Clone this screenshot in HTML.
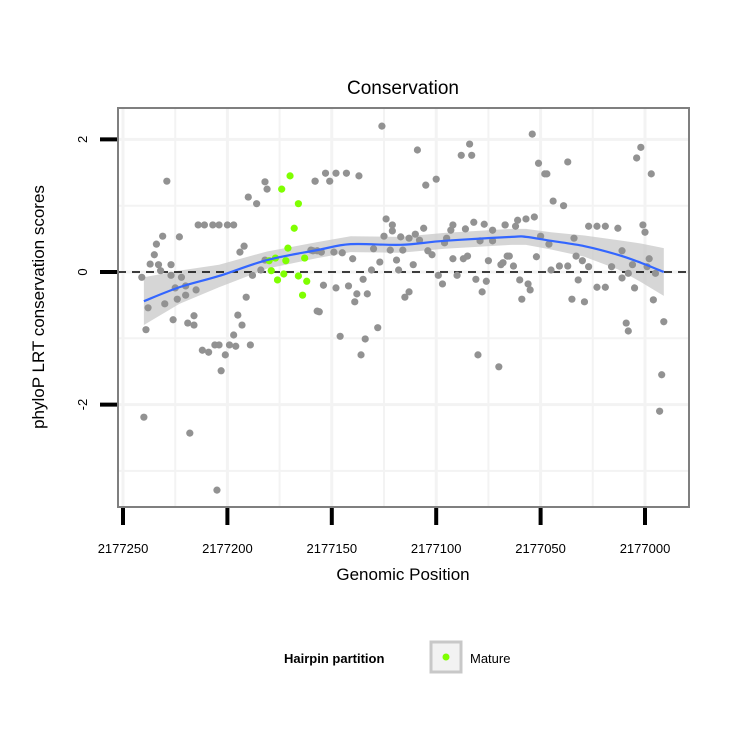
<!DOCTYPE html>
<html><head><meta charset="utf-8"><style>
body{margin:0;background:#fff;}
svg text{font-family:"Liberation Sans",sans-serif;}
</style></head><body>
<svg id="chart" width="750" height="750" xmlns="http://www.w3.org/2000/svg">
<rect width="750" height="750" fill="#fff"/>
<g id="grid"></g>
<g id="band"></g>
<line x1="118" y1="272" x2="689" y2="272" stroke="#000" stroke-width="1.6" stroke-dasharray="8,6"/>
<g id="pts"></g>
<g id="fitg"></g>
<rect x="118" y="108" width="571" height="399" fill="none" stroke="#7f7f7f" stroke-width="2"/>
<g id="axes"></g>
<text x="403" y="94" font-size="19" text-anchor="middle">Conservation</text>
<text x="403" y="580" font-size="17" text-anchor="middle">Genomic Position</text>
<text transform="translate(44,307) rotate(-90)" font-size="17" text-anchor="middle">phyloP LRT conservation scores</text>
<g>
<text x="284" y="663" font-size="13" font-weight="bold">Hairpin partition</text>
<rect x="431" y="642" width="30" height="30" fill="#f2f2f2" stroke="#c8c8c8" stroke-width="3"/>
<circle cx="446" cy="657" r="3.5" fill="#7fff00"/>
<text x="470" y="663" font-size="13">Mature</text>
</g>
</svg>
<script>
const grayPos=[2177229,2177182,2177181,2177190,2177186,2177158,2177214,2177211,2177207,2177204,2177200,2177197,2177231,2177223,2177234,2177235,2177192,2177194,2177237,2177233,2177227,2177232,2177227,2177241,2177222,2177182,2177184,2177188,2177160,2177157,2177225,2177220,2177215,2177224,2177220,2177191,2177238,2177230,2177239,2177226,2177216,2177219,2177216,2177195,2177193,2177197,2177212,2177209,2177206,2177204,2177199,2177196,2177189,2177201,2177203,2177240,2177218,2177205,2177157,
2177126,2177109,2177084,2177088,2177083,2177158,2177153,2177151,2177148,2177143,2177137,2177105,2177100,2177124,2177121,2177121,2177125,2177117,2177113,2177110,2177106,2177108,2177095,2177092,2177093,2177086,2177082,2177077,2177073,2177067,2177159,2177155,2177149,2177145,2177140,2177130,2177122,2177116,2177127,2177119,2177111,2177104,2177102,2177096,2177092,2177087,2177085,2177079,2177073,2177075,2177069,2177066,2177131,2177135,2177118,2177099,2177090,2177081,2177076,2177097,2177078,2177154,2177148,2177142,2177138,2177133,2177139,2177113,2177115,2177156,2177128,2177146,2177134,2177136,2177080,2177070,
2177054,2177051,2177037,2177048,2177047,2177002,2177004,2176997,2177044,2177039,2177067,2177061,2177057,2177053,2177062,2177027,2177023,2177019,2177013,2177001,2177000,2177050,2177046,2177034,2177011,2176998,2177065,2177068,2177063,2177052,2177033,2177030,2177027,2177016,2177006,2177045,2177041,2177037,2177008,2177011,2176999,2176995,2177060,2177056,2177055,2177032,2177023,2177019,2177005,2177059,2177035,2177029,2176996,2177009,2177008,2176991,2176992,2176993];
const grayScore=[1.37,1.36,1.25,1.13,1.03,1.37,.71,.71,.71,.71,.71,.71,.54,.53,.42,.26,.39,.30,.12,.11,.11,.02,-.05,-.08,-.08,.18,.03,-.05,.33,.32,-.24,-.21,-.27,-.41,-.35,-.38,-.54,-.48,-.87,-.72,-.66,-.77,-.80,-.65,-.80,-.95,-1.18,-1.21,-1.10,-1.10,-1.10,-1.12,-1.10,-1.25,-1.49,-2.19,-2.43,-3.29,-.59,
2.20,1.84,1.93,1.76,1.76,1.37,1.49,1.37,1.49,1.49,1.45,1.31,1.40,.80,.71,.62,.54,.53,.51,.57,.66,.48,.51,.71,.63,.65,.75,.72,.63,.71,.32,.30,.30,.29,.20,.35,.33,.33,.15,.18,.11,.32,.26,.44,.20,.20,.24,.47,.47,.17,.11,.24,.03,-.11,.03,-.05,-.05,-.11,-.14,-.18,-.30,-.20,-.24,-.21,-.33,-.33,-.45,-.30,-.38,-.60,-.84,-.97,-1.01,-1.25,-1.25,-1.43,
2.08,1.64,1.66,1.48,1.48,1.88,1.72,1.48,1.07,1.00,.71,.78,.80,.83,.69,.69,.69,.69,.66,.71,.60,.54,.42,.51,.32,.20,.24,.14,.09,.23,.24,.17,.08,.08,.11,.03,.09,.09,-.02,-.09,.08,-.02,-.12,-.18,-.27,-.12,-.23,-.23,-.24,-.41,-.41,-.45,-.42,-.77,-.89,-.75,-1.55,-2.10];
const maturePos=[2177170,2177174,2177166,2177168,2177171,2177177,2177180,2177172,2177163,2177179,2177173,2177176,2177166,2177162,2177164];
const matureScore=[1.45,1.25,1.03,.66,.36,.21,.17,.17,.21,.02,-.03,-.12,-.06,-.14,-.35];
const fitPos=[2177240,2177223,2177204,2177181,2177157,2177141,2177117,2177096,2177064,2177057,2177045,2177029,2177013,2177002,2176991];
const fitVal=[-.44,-.23,-.06,.18,.33,.42,.41,.47,.53,.53,.47,.39,.26,.14,0];
const fitSe=[.36,.25,.17,.13,.12,.12,.12,.12,.12,.12,.13,.16,.22,.29,.36];
const xTicks=[2177250,2177200,2177150,2177100,2177050,2177000];
const yTicks=[2,0,-2];

const NS='http://www.w3.org/2000/svg';
const X=v=>123+(2177250-v)*2.088;
const Y=v=>272-v*66.3;
function mk(tag,attrs,parent){const e=document.createElementNS(NS,tag);for(const k in attrs)e.setAttribute(k,attrs[k]);parent.appendChild(e);return e;}
const grid=document.getElementById('grid');
for(let v=2177250;v>=2177000;v-=25){const l=mk('line',{x1:X(v),x2:X(v),y1:108,y2:507,stroke:'#f3f3f3','stroke-width':v%50===0?3:2},grid);

}
for(let v=2;v>=-3;v-=1){const l=mk('line',{x1:118,x2:689,y1:Y(v),y2:Y(v),stroke:'#f3f3f3','stroke-width':v%2===0?3:2},grid);

}
// band
let d='';
fitPos.forEach((p,i)=>{d+=(i?'L':'M')+X(p)+','+Y(fitVal[i]+fitSe[i]);});
for(let i=fitPos.length-1;i>=0;i--)d+='L'+X(fitPos[i])+','+Y(fitVal[i]-fitSe[i]);
const band=mk('path',{d:d+'Z',fill:'#c8c8c8','fill-opacity':0.75},document.getElementById('band'));


const pts=document.getElementById('pts');
grayPos.forEach((p,i)=>{const c=mk('circle',{cx:X(p),cy:Y(grayScore[i]),r:3.6,fill:'#929292'},pts);

});
maturePos.forEach((p,i)=>{const c=mk('circle',{cx:X(p),cy:Y(matureScore[i]),r:3.6,fill:'#7fff00'},pts);

});
// smooth line via catmull-rom
const P=fitPos.map((p,i)=>[X(p),Y(fitVal[i])]);
let ld='M'+P[0][0]+','+P[0][1];
for(let i=0;i<P.length-1;i++){const p0=P[i-1]||P[i],p1=P[i],p2=P[i+1],p3=P[i+2]||P[i+1];
ld+='C'+(p1[0]+(p2[0]-p0[0])/6)+','+(p1[1]+(p2[1]-p0[1])/6)+' '+(p2[0]-(p3[0]-p1[0])/6)+','+(p2[1]-(p3[1]-p1[1])/6)+' '+p2[0]+','+p2[1];}
const fl=mk('path',{d:ld,fill:'none',stroke:'#3366ff','stroke-width':2.2},document.getElementById('fitg'));


const axes=document.getElementById('axes');
xTicks.forEach(v=>{const t=mk('line',{x1:X(v),x2:X(v),y1:508,y2:525,stroke:'#000','stroke-width':4},axes);


const tx=mk('text',{x:X(v),y:553,'font-size':13,'text-anchor':'middle'},axes);tx.textContent=v;

});
yTicks.forEach(v=>{const t=mk('line',{x1:100,x2:117,y1:Y(v),y2:Y(v),stroke:'#000','stroke-width':4},axes);


const tx=mk('text',{transform:'translate(87,'+Y(v)+') rotate(-90)','font-size':13,'text-anchor':'middle'},axes);tx.textContent=v;

});
</script>
</body></html>
